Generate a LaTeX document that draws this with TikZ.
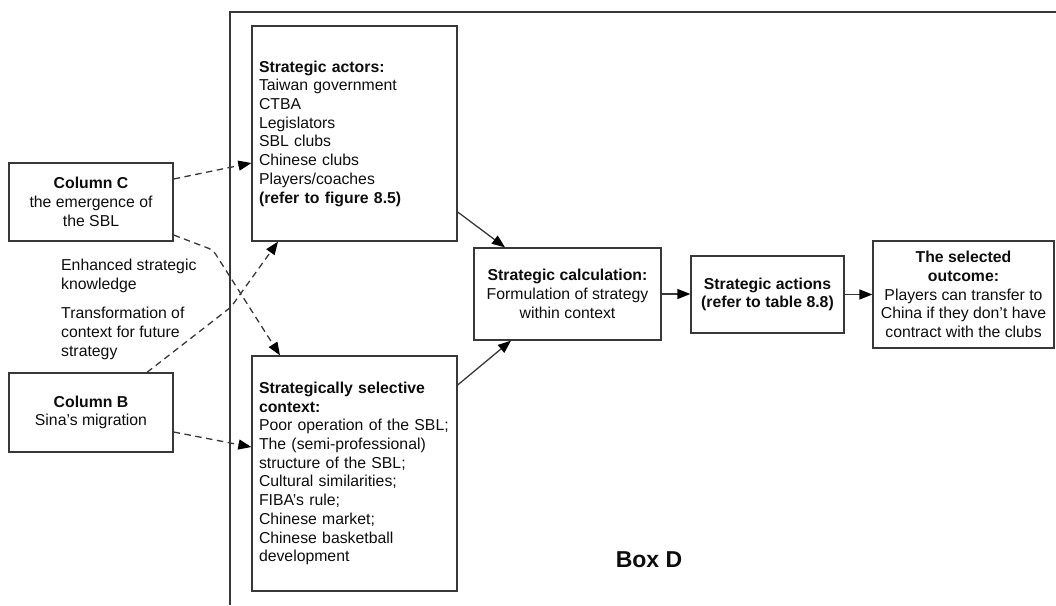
\documentclass[tikz,border=0pt]{standalone}
\usepackage{fontspec}
\setmainfont{Liberation Sans}
\usetikzlibrary{arrows.meta}
\definecolor{linecol}{gray}{0.22}
\definecolor{textcol}{gray}{0.05}
\begin{document}
\begin{tikzpicture}[x=1pt,y=-1pt,
  every node/.style={text=textcol,font=\fontsize{15.8}{18.7}\selectfont},
  box/.style={draw=linecol,line width=1.3pt,inner sep=0pt,align=center},
  listbox/.style={box,align=left,inner xsep=7pt,text width=#1},
  tip/.style={-{Triangle[length=13pt,width=10pt,color=black]}},
  link/.style={tip,draw=linecol,line width=1.3pt},
  dlink/.style={link,dash pattern=on 6.5pt off 4.5pt},
  note/.style={align=left,inner sep=0pt,anchor=base west}]
\useasboundingbox (0,0) rectangle (1056,605);

% outer frame of Box D (open to the right and bottom)
\draw[linecol,line width=1.5pt] (230,605) -- (230,12) -- (1056,12);
\node[font=\fontsize{23}{27}\selectfont\bfseries] (boxd) at (649,560) {Box D};

% left-hand columns
\node[box,minimum width=164pt,minimum height=78pt] (colC) at (91,202)
  {\textbf{Column C}\\the emergence of\\the SBL};
\node[box,minimum width=164pt,minimum height=79pt] (colB) at (91,412.5)
  {\textbf{Column B}\\Sina's migration};

% feedback notes (anchored on the baseline of their last line)
\node[note] (know) at (61,289) {Enhanced strategic\\knowledge};
\node[note] (trans) at (61,356) {Transformation of\\context for future\\strategy};

% strategic actors and context
\node[listbox=191pt,minimum width=205pt,minimum height=215pt] (actors) at (354.5,133.5)
  {\textbf{Strategic actors:}\\Taiwan government\\CTBA\\Legislators\\SBL clubs\\Chinese clubs\\Players/coaches\\\textbf{(refer to figure 8.5)}};
\node[listbox=191pt,minimum width=205pt,minimum height=235pt] (context) at (354.5,473.5)
  {\textbf{Strategically selective}\\\textbf{context:}\\Poor operation of the SBL;\\The (semi-professional)\\structure of the SBL;\\Cultural similarities;\\FIBA's rule;\\Chinese market;\\Chinese basketball\\development};

% calculation, actions, outcome
\node[box,minimum width=187pt,minimum height=92pt] (calc) at (567.5,294)
  {\textbf{Strategic calculation:}\\Formulation of strategy\\within context};
\node[box,minimum width=153pt,minimum height=77pt] (actions) at (767.5,294.5)
  {\textbf{Strategic actions}\\\textbf{(refer to table 8.8)}};
\node[box,minimum width=181pt,minimum height=107pt] (outcome) at (963.5,294.5)
  {\textbf{The selected}\\\textbf{outcome:}\\Players can transfer to\\China if they don't have\\contract with the clubs};

% dashed influences
\draw[dlink] (colC.east |- 0,179) -- (actors.west |- 0,163);
\draw[dlink,rounded corners=5pt] (colC.east |- 0,235) -- (213,250) -- (280,0 |- context.north);
\draw[dlink,rounded corners=3pt] (147,0 |- colB.north) -- (231,307) -- (278,0 |- actors.south);
\draw[dlink] (colB.east |- 0,432) -- (context.west |- 0,447);

% main flow
\draw[link] (actors.east |- 0,212) -- (505,0 |- calc.north);
\draw[link] (context.east |- 0,385) -- (511,0 |- calc.south);
\draw[link] (calc.east) -- (calc.east -| actions.west);
\draw[link] (actions.east) -- (actions.east -| outcome.west);
\end{tikzpicture}
\end{document}
